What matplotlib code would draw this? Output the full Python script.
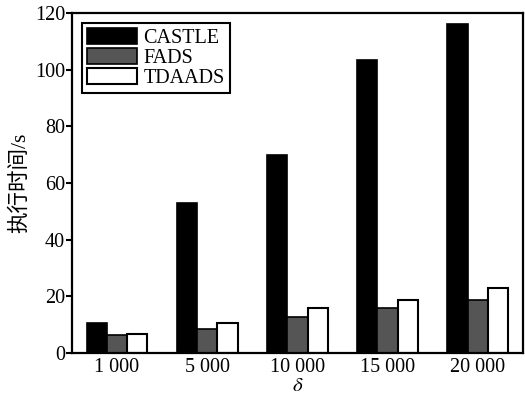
import numpy as np
import matplotlib.pyplot as plt

plt.rcParams['font.family'] = ['Liberation Serif', 'Noto Sans CJK SC']
plt.rcParams['mathtext.fontset'] = 'stix'

# execution time (s) for each delta setting
deltas = ['1 000', '5 000', '10 000', '15 000', '20 000']
castle = [10.7, 53.0, 70.0, 103.6, 116.0]
fads = [6.3, 8.5, 12.5, 15.8, 18.6]
tdaads = [6.8, 10.6, 16.0, 18.7, 22.8]

fig = plt.figure(figsize=(5.25, 3.96), dpi=100)
ax = fig.add_axes([0.137, 0.109, 0.859, 0.858])

x = np.arange(len(deltas))
w = 0.225

ax.bar(x - w, castle, w, color='black', edgecolor='black', linewidth=1.2, label='CASTLE')
ax.bar(x, fads, w, color='#555555', edgecolor='black', linewidth=1.2, label='FADS')
ax.bar(x + w, tdaads, w, color='white', edgecolor='black', linewidth=1.5, label='TDAADS')

ax.set_xlim(-0.5, 4.5)
ax.set_ylim(0, 120)
ax.set_xticks(x)
ax.set_xticklabels(deltas)
ax.set_yticks(range(0, 121, 20))

ax.tick_params(axis='y', direction='out', length=4, width=1.5, labelsize=14.5, pad=1)
ax.tick_params(axis='x', length=0, labelsize=14.5, pad=4)
for s in ax.spines.values():
    s.set_linewidth(1.6)

ax.set_xlabel(r'$\delta$', fontsize=15, labelpad=0)
ax.set_ylabel('执行时间/s', fontsize=15.5, labelpad=3)

leg = ax.legend(loc='upper left', fontsize=14.5, frameon=True, fancybox=False,
                edgecolor='black', framealpha=1, handlelength=2.5, handleheight=0.8,
                handletextpad=0.3, labelspacing=0.02, borderpad=0.25,
                borderaxespad=0.5)
leg.get_frame().set_linewidth(1.5)

fig.savefig('out.png', dpi=100)
